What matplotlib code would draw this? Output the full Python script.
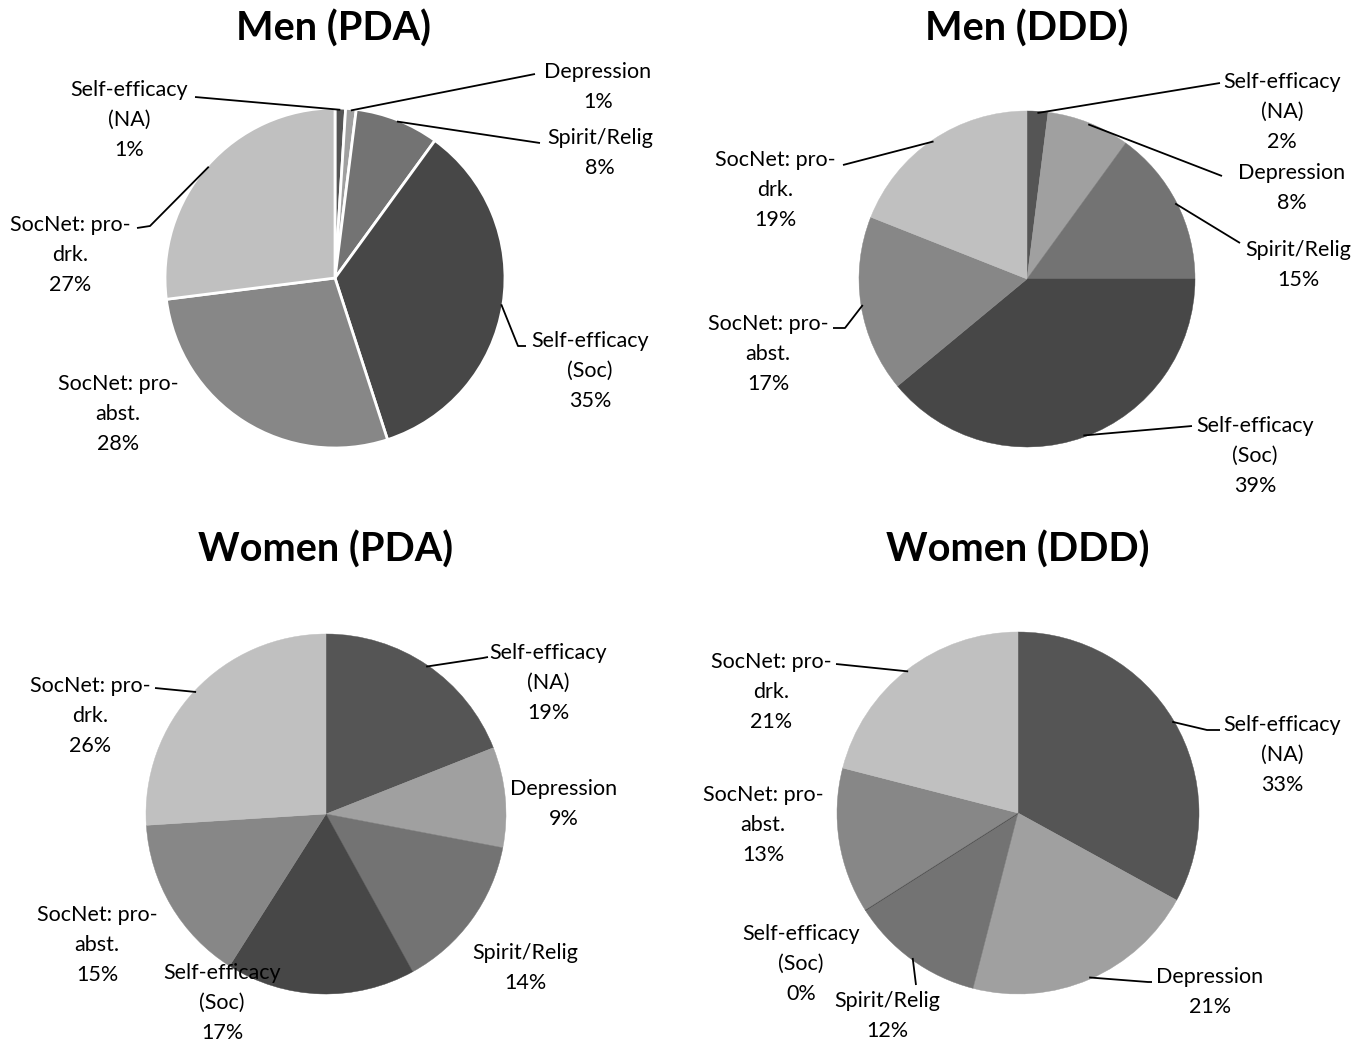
import numpy as np
import matplotlib.pyplot as plt

plt.rcParams['font.family'] = ['Lato', 'DejaVu Sans']

W, H = 1369, 1044

categories = ["Self-efficacy\n(NA)", "Depression", "Spirit/Relig",
              "Self-efficacy\n(Soc)", "SocNet: pro-\nabst.", "SocNet: pro-\ndrk."]
colors = ['#555555', '#a0a0a0', '#737373', '#474747', '#878787', '#c0c0c0']

titles = ["Men (PDA)", "Men (DDD)", "Women (PDA)", "Women (DDD)"]
men_pda = [1, 1, 8, 35, 28, 27]
men_ddd = [2, 8, 15, 39, 17, 19]
women_pda = [19, 9, 14, 17, 15, 26]
women_ddd = [33, 21, 12, 0, 13, 21]

# layout in pixels (y measured from the top)
panels = [
    dict(vals=men_pda, center=(335, 278), r=170, title=(334, 29), edge='white',
         text=[(129, 117), (598, 84), (600, 150), (590, 368), (118, 411), (70, 252)],
         lead=[[(195, 97)], [(535, 74)], [(540, 143)], [(518, 346), (526, 346)],
               None, [(150, 226), (137, 228)]]),
    dict(vals=men_ddd, center=(1027, 279), r=168, title=(1027, 29), edge=None,
         text=[(1282, 109), (1292, 185), (1298, 262), (1255, 453), (768, 351), (775, 187)],
         lead=[[(1220, 83)], [(1222, 176)], [(1240, 243)], [(1192, 426)],
               [(845, 328), (833, 328)], [(843, 165)]]),
    dict(vals=women_pda, center=(326, 814), r=180, title=(326, 550), edge=None,
         text=[(548, 680), (564, 801), (525, 965), (222, 1000), (97, 942), (90, 713)],
         lead=[[(483, 658), (488, 657)], None, None, None, None, [(155, 688)]]),
    dict(vals=women_ddd, center=(1018, 813), r=181, title=(1018, 550), edge=None,
         text=[(1282, 752), (1210, 989), (887, 1013), (801, 961), (763, 822), (771, 689)],
         lead=[[(1207, 730), (1220, 730)], [(1148, 982), (1152, 982)], [(916, 985)],
               None, None, [(836, 664)]]),
]

fig = plt.figure(figsize=(W / 100, H / 100), dpi=100)
ax = fig.add_axes([0, 0, 1, 1])

for name, p in zip(titles, panels):
    cx, cy = p['center']
    r = p['r']
    vals = p['vals']
    wedges, _ = ax.pie(vals, colors=colors, startangle=90, counterclock=False,
                       center=(cx, H - cy), radius=r, normalize=True)
    for w, v, c in zip(wedges, vals, colors):
        if p['edge']:
            w.set_edgecolor(p['edge'])
            w.set_linewidth(2)
        elif v == 0:
            w.set_edgecolor(c)
            w.set_linewidth(1.2)
        else:
            w.set_edgecolor(c)
            w.set_linewidth(0.3)

    ax.text(p['title'][0], H - p['title'][1], name, ha='center', va='center',
            fontsize=28.5, fontweight='bold')

    frac = np.array(vals, dtype=float) / sum(vals)
    mids = np.cumsum(frac) - frac / 2
    for cat, v, m, (tx, ty), lead in zip(categories, vals, mids, p['text'], p['lead']):
        # small downward nudge: text box centre sits a little high
        ax.text(tx, H - ty - 3, f"{cat}\n{v}%", ha='center', va='center',
                multialignment='center', fontsize=15.5, linespacing=1.62)
        if lead:
            th = 2 * np.pi * m
            x0 = cx + r * 0.99 * np.sin(th)
            y0 = cy - r * 0.99 * np.cos(th)
            xs = [x0] + [q[0] for q in lead]
            ys = [H - y0] + [H - q[1] for q in lead]
            ax.plot(xs, ys, color='black', lw=1.3, solid_capstyle='butt')

ax.set_xlim(0, W)
ax.set_ylim(0, H)
ax.set_aspect('equal')
ax.axis('off')

plt.savefig('out.png', dpi=100)
